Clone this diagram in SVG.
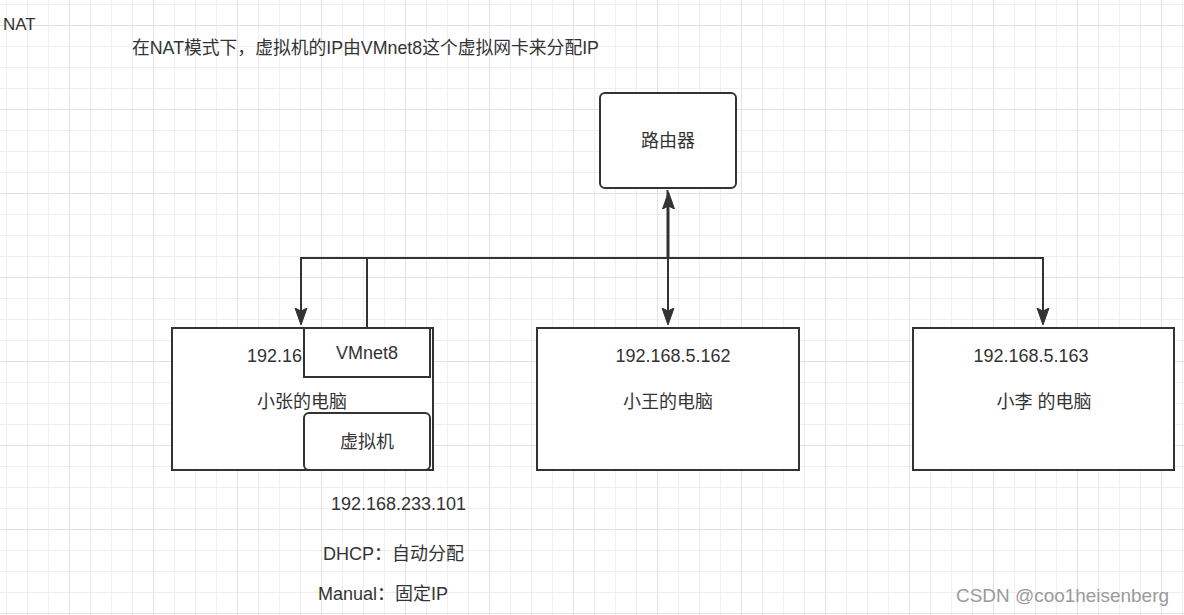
<svg xmlns="http://www.w3.org/2000/svg" width="1184" height="615" viewBox="0 0 1184 615">
  <style>
    .t { font-family: "Liberation Sans", "Noto Sans CJK SC", sans-serif; font-size: 18px; fill: #333333; }
    .box { fill: #ffffff; stroke: #333333; stroke-width: 2; }
    .edge { fill: none; stroke: #333333; stroke-width: 2; }
    .wm { font-family: "Liberation Sans", "Noto Sans CJK SC", sans-serif; font-size: 19px; fill: #9a9a9a; }
  </style>
  <defs>
    <pattern id="grid" x="-15" y="25" width="84" height="84" patternUnits="userSpaceOnUse">
      <path d="M21.5 0V84M42.5 0V84M63.5 0V84M0 21.5H84M0 42.5H84M0 63.5H84" stroke="#efefef" stroke-width="1" fill="none"/>
      <path d="M0.5 0V84M0 0.5H84" stroke="#e2e2e2" stroke-width="1" fill="none"/>
    </pattern>
    <marker id="arrow" markerUnits="userSpaceOnUse" markerWidth="20" markerHeight="14" viewBox="0 -7 20 14" refX="3" refY="0" orient="auto">
      <path d="M0,-6 L17,0 L0,6 L3,0 Z" fill="#333333" stroke="#333333" stroke-width="1"/>
    </marker>
  </defs>
  <rect x="0" y="0" width="1184" height="615" fill="#ffffff"/>
  <rect x="0" y="0" width="1184" height="615" fill="url(#grid)"/>

  <g id="connectors">
    <!-- VMnet8 to router -->
    <path class="edge" d="M367 328 V258 H668.5 V206" marker-end="url(#arrow)"/>
    <!-- bus to 小张 -->
    <path class="edge" d="M668 258 H301 V311" marker-end="url(#arrow)"/>
    <!-- router to 小王 -->
    <path class="edge" d="M667.5 190 V258 M668 258 V311" marker-end="url(#arrow)"/>
    <!-- bus to 小李 -->
    <path class="edge" d="M668 258 H1043 V311" marker-end="url(#arrow)"/>
    <!-- 虚拟机 to VMnet8 -->
    <path class="edge" d="M367 413 V393" marker-end="url(#arrow)"/>
  </g>

  <g id="title">
    <text class="t" x="3" y="30" style="font-size:17px">NAT</text>
    <text class="t" x="132" y="54" style="font-size:17.8px">在NAT模式下，虚拟机的IP由VMnet8这个虚拟网卡来分配IP</text>
  </g>

  <g id="router">
    <rect class="box" x="600" y="93" width="136" height="95" rx="5"/>
    <text class="t" x="668" y="147" text-anchor="middle">路由器</text>
  </g>

  <g id="pc-zhang">
    <rect class="box" x="172" y="328" width="261" height="142"/>
    <text class="t" x="247" y="362">192.16</text>
    <text class="t" x="302" y="408" text-anchor="middle">小张的电脑</text>
  </g>

  <g id="vmnet8">
    <rect class="box" x="304" y="328" width="126" height="49"/>
    <text class="t" x="367" y="359" text-anchor="middle">VMnet8</text>
  </g>

  <g id="vm">
    <rect class="box" x="304" y="413" width="126" height="57" rx="5"/>
    <text class="t" x="367" y="448" text-anchor="middle">虚拟机</text>
  </g>

  <g id="pc-wang">
    <rect class="box" x="537" y="328" width="262" height="142"/>
    <text class="t" x="673" y="362" text-anchor="middle">192.168.5.162</text>
    <text class="t" x="668" y="408" text-anchor="middle">小王的电脑</text>
  </g>

  <g id="pc-li">
    <rect class="box" x="913" y="328" width="261" height="142"/>
    <text class="t" x="1031" y="362" text-anchor="middle">192.168.5.163</text>
    <text class="t" x="1044" y="408" text-anchor="middle">小李 的电脑</text>
  </g>

  <g id="notes">
    <text class="t" x="331" y="510">192.168.233.101</text>
    <text class="t" x="323" y="560">DHCP：自动分配</text>
    <text class="t" x="318" y="600">Manual：固定IP</text>
  </g>

  <text class="wm" x="956" y="602" textLength="213" lengthAdjust="spacingAndGlyphs">CSDN @coo1heisenberg</text>
</svg>
